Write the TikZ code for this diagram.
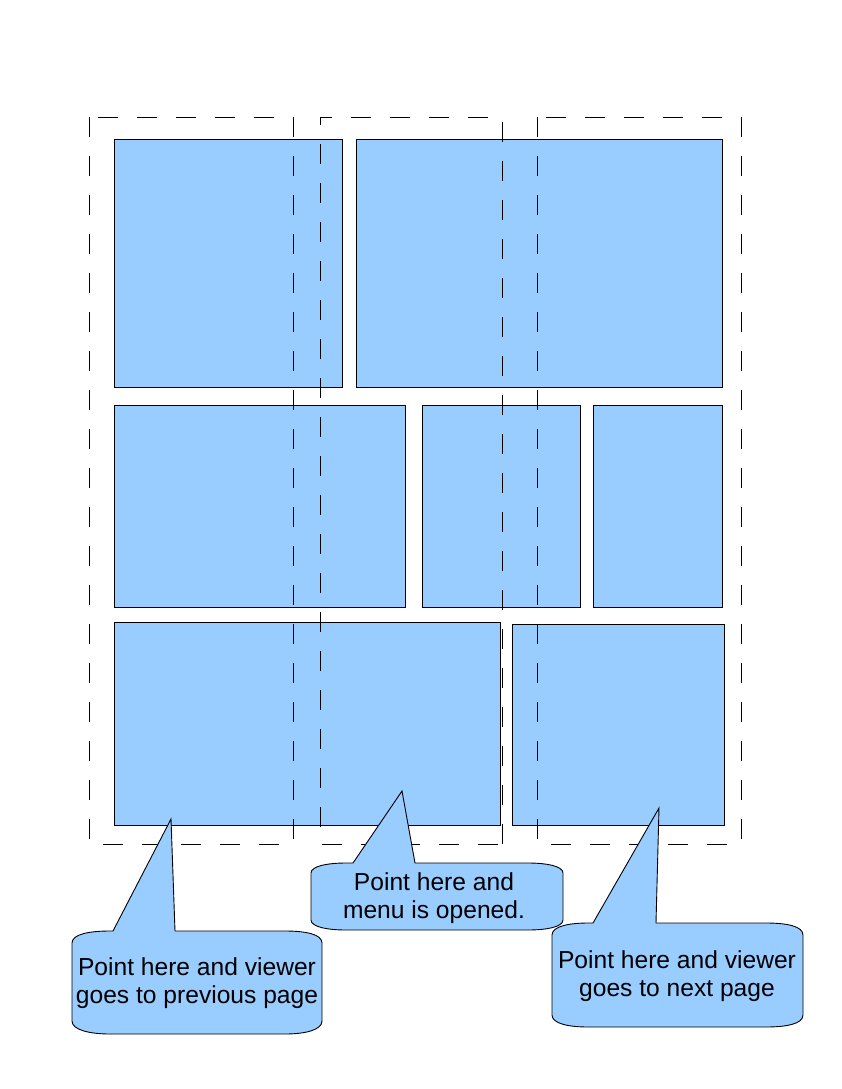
\documentclass[tikz,border=0pt]{standalone}
\usepackage{fontspec}
\setmainfont{Liberation Sans}
\definecolor{boxblue}{HTML}{99CCFF}
\begin{document}
\begin{tikzpicture}[x=1pt,y=-1pt,
  panel/.style={draw=black,line width=0.9pt,fill=boxblue},
  zone/.style={draw=black,line width=0.9pt,dash pattern=on 20pt off 19pt},
  callout/.style={draw=black,line width=0.9pt,fill=boxblue},
  ctext/.style={font=\fontsize{24.6pt}{28pt}\selectfont,align=center,inner sep=0pt}]
\useasboundingbox (0,0) rectangle (842,1089);
% panels
\node[panel,inner sep=0pt,minimum width=228pt,minimum height=248pt,anchor=north west] (p1) at (114,139) {};
\node[panel,inner sep=0pt,minimum width=366pt,minimum height=248pt,anchor=north west] (p2) at (356,139) {};
\node[panel,inner sep=0pt,minimum width=291pt,minimum height=202pt,anchor=north west] (p3) at (114,405) {};
\node[panel,inner sep=0pt,minimum width=158pt,minimum height=202pt,anchor=north west] (p4) at (422,405) {};
\node[panel,inner sep=0pt,minimum width=129pt,minimum height=202pt,anchor=north west] (p5) at (593,405) {};
\node[panel,inner sep=0pt,minimum width=386pt,minimum height=203pt,anchor=north west] (p6) at (114,622) {};
\node[panel,inner sep=0pt,minimum width=212pt,minimum height=201pt,anchor=north west] (p7) at (512,624) {};
% dashed zones
\draw[zone] (89,117) rectangle (293,844);
\draw[zone] (502,844) -- (502,117) -- (320,117) -- (320,844) -- cycle;
\draw[zone] (537,117) rectangle (741,844);
% callout left
\draw[callout] (72,943) .. controls (72,934) and (90,931) .. (110,931)
  -- (113,931) -- (171,819) -- (175,931) -- (285,931)
  .. controls (305,931) and (322,934) .. (322,943)
  -- (322,1021) .. controls (322,1030) and (305,1034) .. (285,1034)
  -- (110,1034) .. controls (90,1034) and (72,1030) .. (72,1021) -- cycle;
\node[ctext] (t1) at (197,983) {Point here and viewer\\goes to previous page};
% callout middle
\draw[callout] (311,873) .. controls (311,866) and (328,863) .. (346,863)
  -- (353,863) -- (402,791) -- (415,863) -- (528,863)
  .. controls (546,863) and (563,866) .. (563,873)
  -- (563,920) .. controls (563,927) and (546,930) .. (528,930)
  -- (346,930) .. controls (328,930) and (311,927) .. (311,920) -- cycle;
\node[ctext] (t2) at (434,898) {Point here and\\menu is opened.};
% callout right
\draw[callout] (552,935) .. controls (552,926) and (570,923) .. (588,923)
  -- (593,923) -- (659,808) -- (656,923) -- (766,923)
  .. controls (786,923) and (803,926) .. (803,935)
  -- (803,1015) .. controls (803,1024) and (786,1027) .. (766,1027)
  -- (588,1027) .. controls (570,1027) and (552,1024) .. (552,1015) -- cycle;
\node[ctext] (t3) at (677,976) {Point here and viewer\\goes to next page};
\end{tikzpicture}
\end{document}
